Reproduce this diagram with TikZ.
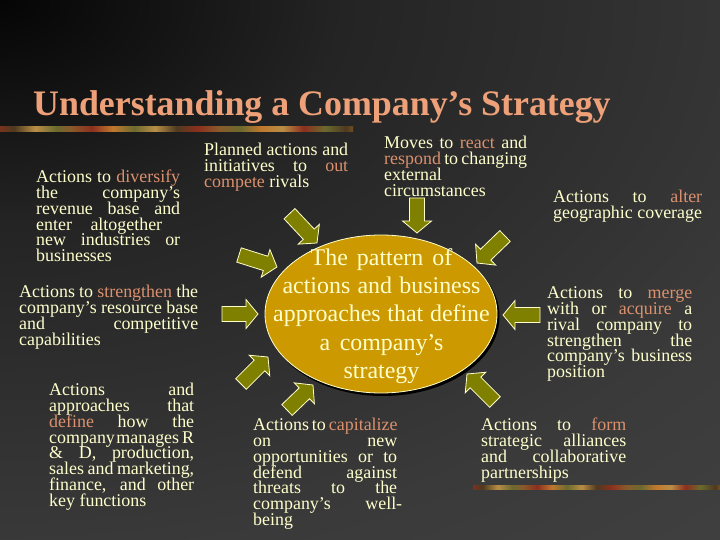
\documentclass[tikz,border=0pt]{standalone}
\usepackage{fontspec}
\setmainfont{Liberation Serif}
\usetikzlibrary{shapes.geometric}
\definecolor{cream}{HTML}{FFFFCC}
\definecolor{titlecol}{HTML}{EEA078}
\definecolor{kwcol}{HTML}{DC916E}
\definecolor{olivefill}{HTML}{808000}
\definecolor{goldfill}{HTML}{CC9900}
\definecolor{bg0}{HTML}{050505}
\definecolor{bg1}{HTML}{242424}
\definecolor{bg2}{HTML}{3A3A3A}
\definecolor{bg3}{HTML}{4A4A4A}
\definecolor{bA}{HTML}{8A5A2B}
\definecolor{bB}{HTML}{C0782E}
\definecolor{bC}{HTML}{6B6A2E}
\definecolor{bD}{HTML}{8C2F1E}
\definecolor{bE}{HTML}{B98E45}
\definecolor{bF}{HTML}{4E3A1F}
\pgfdeclareradialshading{bgrad}{\pgfpointorigin}{color(0bp)=(bg0); color(10bp)=(bg1); color(25bp)=(bg2); color(45bp)=(bg3); color(80bp)=(bg3)}
\pgfdeclarehorizontalshading{barshade}{100bp}{color(0bp)=(bA); color(3bp)=(bB); color(5bp)=(bF); color(8bp)=(bC); color(11bp)=(bD); color(13bp)=(bE); color(16bp)=(bA); color(19bp)=(bC); color(21bp)=(bB); color(24bp)=(bD); color(27bp)=(bF); color(30bp)=(bE); color(33bp)=(bC); color(35bp)=(bA); color(38bp)=(bD); color(41bp)=(bB); color(44bp)=(bC); color(47bp)=(bE); color(50bp)=(bF); color(53bp)=(bD); color(56bp)=(bA); color(59bp)=(bC); color(62bp)=(bB); color(65bp)=(bE); color(68bp)=(bD); color(71bp)=(bC); color(74bp)=(bF); color(77bp)=(bB); color(80bp)=(bA); color(83bp)=(bD); color(86bp)=(bC); color(89bp)=(bE); color(92bp)=(bB); color(95bp)=(bF); color(98bp)=(bC); color(100bp)=(bA)}
\newcommand{\kw}[1]{\textcolor{kwcol}{#1}}
\newcommand{\resetsp}{\spaceskip=0pt\xspaceskip=0pt\relax}
\newcommand{\jline}[1]{\makebox[\hsize][s]{\resetsp #1}\\}
\newcommand{\wline}[2]{\makebox[#1][s]{\resetsp #2}\\}
\newcommand{\lline}[1]{\mbox{\resetsp #1}}
\newcommand{\topstrut}{\resetsp\rule{0pt}{13bp}}
\newcommand{\bodyfont}{\fontsize{18}{16}\selectfont\lineskiplimit=-20pt\relax\hyphenpenalty=10000\relax}
\newcommand{\corefont}{\fontsize{24}{28.5}\selectfont\lineskiplimit=-20pt\relax}
\newcommand{\blockarrow}[4]{%
  \pgfmathsetmacro{\baDX}{#3-#1}%
  \pgfmathsetmacro{\baDY}{#4-#2}%
  \pgfmathsetmacro{\baL}{veclen(\baDX,\baDY)}%
  \pgfmathsetmacro{\baA}{atan2(-\baDY,\baDX)}%
  \pgfmathsetmacro{\baB}{\baL-12}%
  \draw[arrowshape, shift={(#1,#2)}, rotate=\baA] (0,-7.5) -- (\baB,-7.5) -- (\baB,-14.5) -- (\baL,0) -- (\baB,14.5) -- (\baB,7.5) -- (0,7.5) -- cycle;%
}
\tikzset{
  arrowshape/.style={fill=olivefill, draw=cream, line width=0.8bp, line join=miter},
  txtblock/.style={anchor=north west, inner sep=0pt, align=left, text=cream, font=\bodyfont, text width=#1}
}
\begin{document}
\begin{tikzpicture}[x=1bp,y=-1bp]
\useasboundingbox (0,0) rectangle (720,540);
\begin{scope}
\clip (0,0) rectangle (720,540);
\shade[shading=bgrad] (-860,-560) rectangle (860,560);
\end{scope}
% decorative bars
\shade[shading=barshade] (0,127) rectangle (353,132);
\shade[shading=barshade] (473,485) rectangle (720,489);
% title
\node[anchor=base west, inner sep=0pt, font=\fontsize{36}{40}\selectfont\bfseries, text=titlecol] (title) at (33,116) {Understanding a Company’s Strategy};
% central ellipse
\node[ellipse, fill=black, minimum width=233bp, minimum height=159bp, inner sep=0pt] (coreshadow) at (383,316.5) {};
\node[ellipse, draw=cream, line width=0.8bp, fill=goldfill, minimum width=232bp, minimum height=158bp, inner sep=0pt] (core) at (381,314) {};
\node[anchor=north, text width=240bp, align=center, font=\corefont, text=cream, inner sep=0pt] (coretext) at (381.5,247) {\resetsp\rule{0pt}{18bp}The pattern of\\ actions and business\\ approaches that define\\ a company’s\\ strategy};
% arrows
\blockarrow{289.5}{213.7}{317}{243}
\blockarrow{239}{255}{277}{267}
\blockarrow{222}{314}{258}{314}
\blockarrow{241}{384}{268}{357}
\blockarrow{287}{410}{313}{385}
\blockarrow{417}{198}{417}{233}
\blockarrow{505}{236}{477}{263}
\blockarrow{540}{315}{503}{315}
\blockarrow{495}{402}{467}{374}
% text blocks
\node[txtblock=144bp] (diversify) at (36,169) {\topstrut\jline{Actions to \kw{diversify}}\jline{the company’s}\jline{revenue base and}\wline{126bp}{enter altogether}\jline{new industries or}\lline{businesses}};
\node[txtblock=179bp] (strengthen) at (19,284) {\topstrut\jline{Actions to \kw{strengthen} the}\jline{company’s resource base}\jline{and competitive}\lline{capabilities}};
\node[txtblock=145bp] (define) at (49,382) {\topstrut\jline{Actions and}\jline{approaches that}\jline{\kw{define} how the}\makebox[\hsize][s]{company\hspace{1.5bp}manages\hspace{1.5bp plus 1fil}R}\\\jline{\& D, production,}\jline{sales and marketing,}\jline{finance, and other}\lline{key functions}};
\node[txtblock=144bp] (outcompete) at (204,142) {\topstrut\jline{Planned actions and}\jline{initiatives to \kw{out}}\lline{\kw{compete} rivals}};
\node[txtblock=143bp] (react) at (384,135) {\topstrut\jline{Moves to \kw{react} and}\jline{\kw{respond} to changing}\lline{external}\\\lline{circumstances}};
\node[txtblock=149bp] (alter) at (553,189) {\topstrut\jline{Actions to \kw{alter}}\lline{geographic coverage}};
\node[txtblock=145bp] (merge) at (547,285) {\topstrut\jline{Actions to \kw{merge}}\jline{with or \kw{acquire} a}\jline{rival company to}\jline{strengthen the}\jline{company’s business}\lline{position}};
\node[txtblock=144bp] (capitalize) at (253,417) {\topstrut\jline{Actions to \kw{capitalize}}\jline{on new}\jline{opportunities or to}\jline{defend against}\jline{threats to the}\wline{149bp}{company’s well-}\lline{being}};
\node[txtblock=145bp] (alliances) at (481,417) {\topstrut\jline{Actions to \kw{form}}\jline{strategic alliances}\jline{and collaborative}\lline{partnerships}};
\end{tikzpicture}
\end{document}
